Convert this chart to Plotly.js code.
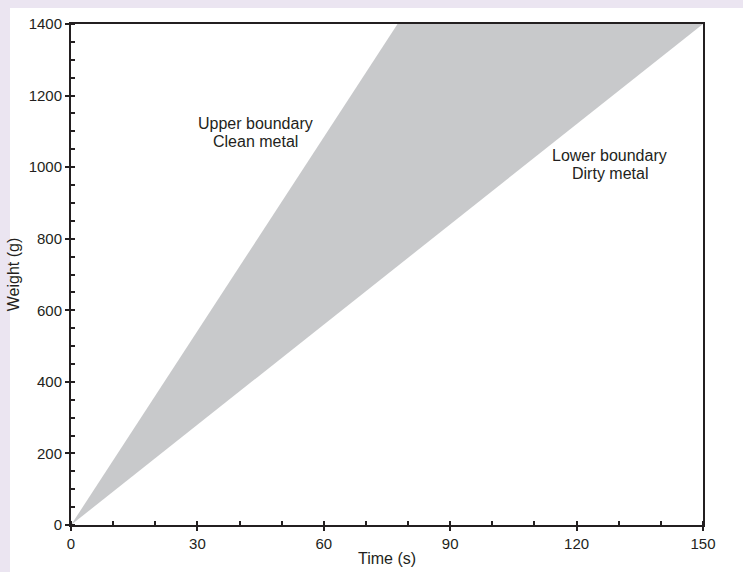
<!DOCTYPE html>
<html>
<head>
<meta charset="utf-8">
<script src="https://cdn.plot.ly/plotly-3.0.1.min.js"></script>
<style>
  html, body { margin: 0; padding: 0; background: #ebe5f1; }
  #chart { width: 743px; height: 572px; }
</style>
</head>
<body>
<div id="chart"></div>
<script>
// Data
const upperTime = [0, 77.5];      // s  (Upper boundary – Clean metal)
const upperWeight = [0, 1400];    // g
const lowerTime = [0, 150];       // s  (Lower boundary – Dirty metal)
const lowerWeight = [0, 1400];    // g
const xTickVals = [0, 30, 60, 90, 120, 150];
const yTickVals = [0, 200, 400, 600, 800, 1000, 1200, 1400];
const upperLabelLines = ["Upper boundary", "Clean metal"];
const lowerLabelLines = ["Lower boundary", "Dirty metal"];

const ink = "#231f20";
const fam = "Liberation Sans, Arial, sans-serif";
const font = { family: fam, size: 15, color: ink };
const tfont = { family: fam, size: 16, color: ink };

// Band polygon built from the two boundary lines
const bandX = upperTime.concat(lowerTime.slice().reverse());
const bandY = upperWeight.concat(lowerWeight.slice().reverse());

const traces = [
  {
    x: bandX, y: bandY, type: "scatter", mode: "lines",
    fill: "toself", fillcolor: "#c8c9cb",
    line: { width: 0, color: "#c8c9cb" },
    hoverinfo: "skip", showlegend: false
  },
  {
    x: lowerTime, y: lowerWeight, xaxis: "x2", yaxis: "y2",
    type: "scatter", mode: "lines", line: { width: 0 },
    hoverinfo: "skip", showlegend: false, opacity: 0
  }
];

const W = 743, H = 572;
const m = { l: 71, r: 40, t: 24, b: 47 };
const pw = W - m.l - m.r, ph = H - m.t - m.b;
const px = v => (v - m.l) / pw;
const py = v => (H - m.b - v) / ph;

function labelAnnots(lines, x, y0, step) {
  return lines.map((t, i) => ({
    x: x, y: y0 - i * step, xref: "x", yref: "y", text: t,
    showarrow: false, font: tfont, align: "center"
  }));
}

const layout = {
  width: W, height: H,
  margin: m,
  paper_bgcolor: "#ebe5f1",
  plot_bgcolor: "rgba(0,0,0,0)",
  font: font,
  showlegend: false,
  xaxis: {
    range: [0, 150], tickvals: xTickVals, ticks: "outside", ticklen: 4, tickwidth: 2, tickcolor: ink,
    showline: true, linewidth: 2, linecolor: ink, mirror: true,
    showgrid: false, zeroline: false, tickfont: font,
    minor: { dtick: 10, tick0: 0, ticks: "inside", ticklen: 4, tickwidth: 2, tickcolor: ink, showgrid: false },
    title: { text: "Time (s)", font: tfont, standoff: 2 },
    fixedrange: true
  },
  yaxis: {
    range: [0, 1400], tickvals: yTickVals, ticks: "outside", ticklen: 4, tickwidth: 2, tickcolor: ink,
    showline: true, linewidth: 2, linecolor: ink, mirror: true,
    showgrid: false, zeroline: false, tickfont: font,
    minor: { dtick: 50, tick0: 0, ticks: "inside", ticklen: 4, tickwidth: 2, tickcolor: ink, showgrid: false },
    title: { text: "Weight (g)", font: tfont, standoff: 5 },
    fixedrange: true
  },
  xaxis2: {
    overlaying: "x", anchor: "y2", side: "bottom", range: [0, 150], tickvals: xTickVals,
    ticks: "inside", ticklen: 4, tickwidth: 2, tickcolor: ink,
    showticklabels: false, showline: false, showgrid: false, zeroline: false, fixedrange: true
  },
  yaxis2: {
    overlaying: "y", anchor: "x2", side: "left", range: [0, 1400], tickvals: yTickVals,
    ticks: "inside", ticklen: 4, tickwidth: 2, tickcolor: ink,
    showticklabels: false, showline: false, showgrid: false, zeroline: false, fixedrange: true
  },
  shapes: [
    {
      type: "rect", xref: "paper", yref: "paper", layer: "below",
      x0: px(10), x1: px(W + 2), y0: py(H + 2), y1: py(8),
      fillcolor: "#ffffff", line: { width: 0 }
    }
  ],
  annotations: labelAnnots(upperLabelLines, 43.7, 1122, 51)
    .concat(labelAnnots(lowerLabelLines, 127.9, 1032, 50))
};

Plotly.newPlot("chart", traces, layout, { displayModeBar: false, staticPlot: true });
</script>
</body>
</html>
